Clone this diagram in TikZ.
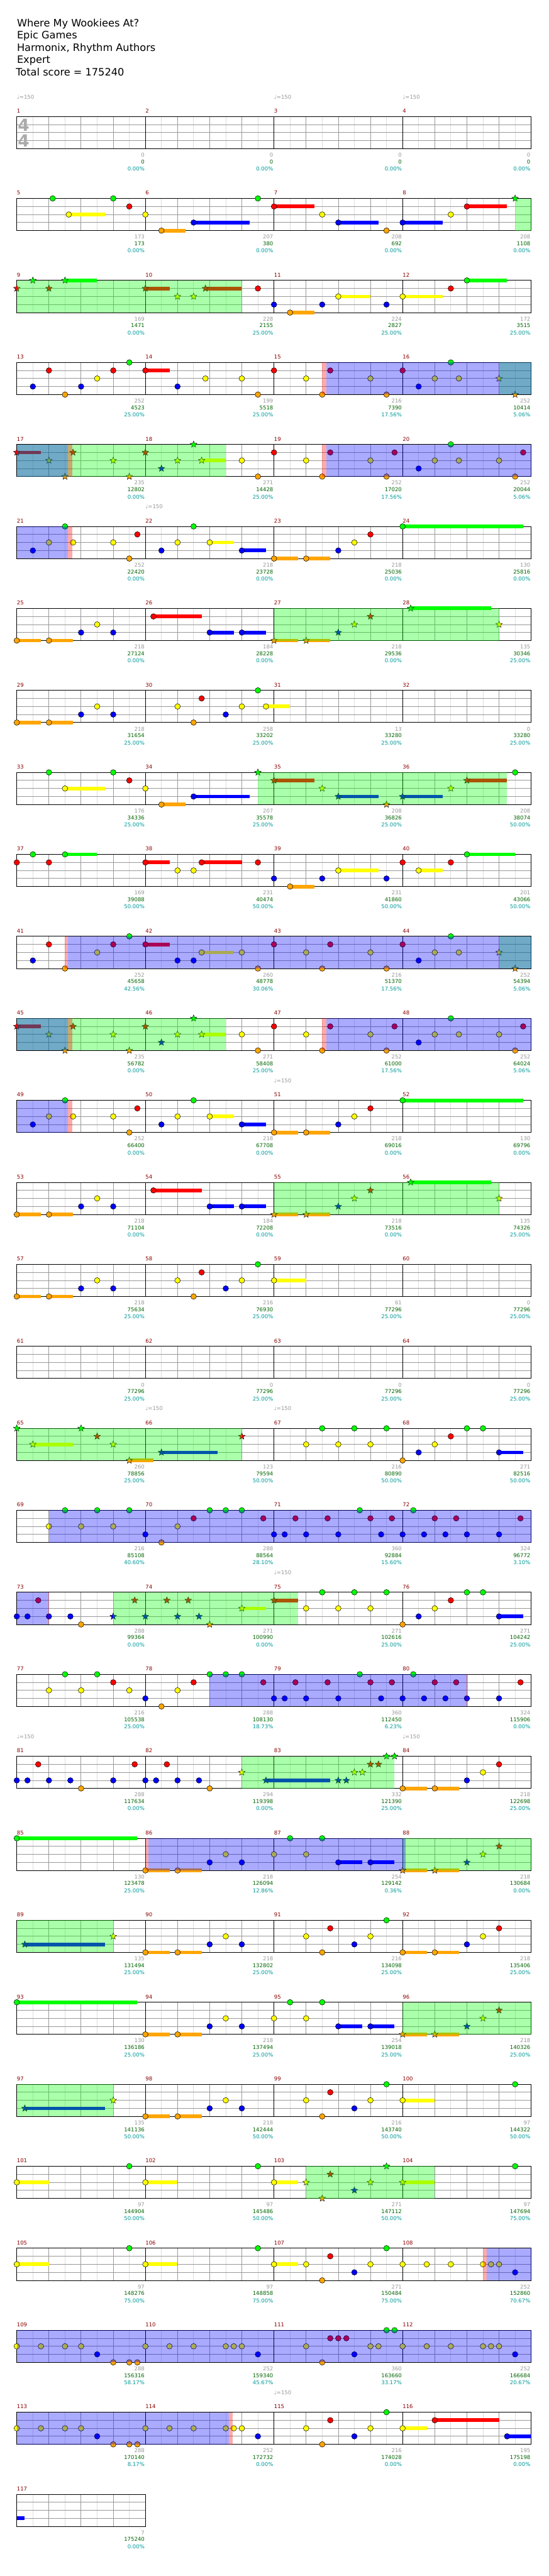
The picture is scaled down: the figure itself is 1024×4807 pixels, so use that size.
\documentclass[tikz,border=0pt]{standalone}
\usepackage{fontspec}
\setmainfont{DejaVu Sans}
\usetikzlibrary{shapes.geometric}
\definecolor{lane0}{RGB}{0,255,0}
\definecolor{lane1}{RGB}{255,0,0}
\definecolor{lane2}{RGB}{255,255,0}
\definecolor{lane3}{RGB}{0,0,255}
\definecolor{lane4}{RGB}{255,165,0}
\definecolor{barred}{RGB}{139,0,0}
\definecolor{scgray}{RGB}{153,153,153}
\definecolor{scgreen}{RGB}{0,100,0}
\definecolor{scteal}{RGB}{0,153,153}
\definecolor{gridlight}{RGB}{221,221,221}
\definecolor{gridmid}{RGB}{153,153,153}
\tikzset{
  row/.style={shift={(31.3,{217.3+153*#1})},x=15pt,y=-15pt},   % one line of four bars
  eighthline/.style={gridlight,line width=1pt},
  beatline/.style={gridmid,line width=1pt},
  laneline/.style={gridmid,line width=1pt},
  barline/.style={black,line width=1pt},
  gemline/.style={draw=black,line width=0.6pt},
  stargem/.style={star,star points=5,star point ratio=2.3,draw=black,line width=0.5pt,minimum size=13pt,inner sep=0pt},
  spfill/.style={fill=lane0,fill opacity=0.333},                 % star power
  odfill/.style={fill=lane3,fill opacity=0.333},                 % activation
  odmarkfill/.style={fill=lane1,fill opacity=0.333},
  mnum/.style={anchor=base west,inner sep=0pt,text=barred,font=\fontsize{10}{12}\selectfont},
  sgray/.style={anchor=base east,inner sep=0pt,text=scgray,font=\fontsize{10}{12}\selectfont},
  sgreen/.style={anchor=base east,inner sep=0pt,text=scgreen,font=\fontsize{10}{12}\selectfont},
  steal/.style={anchor=base east,inner sep=0pt,text=scteal,font=\fontsize{10}{12}\selectfont},
  tempo/.style={anchor=base west,inner sep=0pt,text=scgray,font=\fontsize{10}{12}\selectfont},
  titletext/.style={anchor=base west,inner sep=0pt,font=\fontsize{19}{23}\selectfont},
  timesig/.style={inner sep=0pt,text=black!33,font=\fontsize{31}{31}\selectfont\bfseries},
}
% grid of one line: #1 line, #2 bars
\newcommand\staff[2]{%
  \pgfmathtruncatemacro\se{16*#2}%
  \foreach \x in {2,6,...,\se} \draw[eighthline] (\x,0) -- (\x,4);
  \foreach \x in {4,8,...,\se} \draw[beatline] (\x,0) -- (\x,4);
  \foreach \y in {1,2,3} \draw[laneline] (0,\y) -- (\se,\y);
  \foreach \k in {1,...,#2} {%
    \draw[barline] (16*\k,0) -- (16*\k,4);
    \pgfmathtruncatemacro\mn{4*#1+\k}%
    \node[mnum] at (16*\k-16,-0.44) {\mn};}
  \draw[barline] (0,0) rectangle (\se,4);}
\newcommand\sust[3]{\fill[lane#2] (#1,#2-0.227) rectangle ({#1+#3},#2+0.227);}
\newcommand\gem[2]{\filldraw[gemline,fill=lane#2] (#1,#2) circle[radius=5.2pt];}
\newcommand\gemh[3]{\sust{#1}{#2}{#3}\gem{#1}{#2}}
\newcommand\sgem[2]{\node[stargem,fill=lane#2] at (#1,#2) {};}
\newcommand\sgemh[3]{\sust{#1}{#2}{#3}\sgem{#1}{#2}}
\newcommand\spzone[2]{\fill[spfill] (#1,0) rectangle (#2,4);}
\newcommand\odzone[2]{\fill[odfill] (#1,0) rectangle (#2,4);}
\newcommand\odmark[2]{\fill[odmarkfill] (#1,0) rectangle ({#1+#2},4);}
\newcommand\barscore[4]{%
  \node[sgray] at (16*#1+15.91,5.03) {#2};
  \node[sgreen] at (16*#1+15.91,5.87) {#3};
  \node[steal] at (16*#1+15.91,6.76) {#4\%};}
\newcommand\tempo[1]{\node[tempo] at (16*#1,-2.2) {♩=150};}
% repeated sections
\newcommand\riffA{%
  \sgemh{0}{1}{3}\sgem{4}{2}\sgem{6}{4}\sgem{7}{1}\sgem{12}{2}\sgem{14}{4}
  \sgem{16}{1}\sgem{18}{3}\sgem{20}{2}\sgem{22}{0}\sgemh{23}{2}{3}
  \gem{28}{2}\gem{30}{4}\gem{32}{1}\gem{36}{2}\gem{38}{4}\gem{39}{1}
  \gem{44}{2}\gem{46}{4}\gem{47}{1}\gem{50}{3}\gem{52}{2}\gem{54}{0}
  \gem{55}{2}\gem{60}{2}\gem{62}{4}\gem{63}{1}
  \spzone{0}{26}\odmark{6.4}{0.5}\odmark{38}{0.5}
  \odzone{0}{6.4}\odzone{38.5}{64}}
\newcommand\riffB{%
  \gem{2}{3}\gem{4}{2}\gem{6}{0}\gem{7}{2}\gem{12}{2}\gem{14}{4}\gem{15}{1}
  \gem{18}{3}\gem{20}{2}\gem{22}{0}\gemh{24}{2}{3}\gemh{28}{3}{3}
  \gemh{32}{4}{3}\gemh{36}{4}{3}\gem{40}{3}\gem{42}{2}\gem{44}{1}\gemh{48}{0}{15}
  \odmark{6.4}{0.5}\odzone{0}{6.4}}
\newcommand\riffC{%
  \gemh{0}{4}{3}\gemh{4}{4}{3}\gem{8}{3}\gem{10}{2}\gem{12}{3}
  \gemh{17}{1}{6}\gemh{24}{3}{3}\gemh{28}{3}{3}
  \sgemh{32}{4}{3}\sgemh{36}{4}{3}\sgem{40}{3}\sgem{42}{2}\sgem{44}{1}
  \sgemh{49}{0}{10}\sgem{60}{2}
  \spzone{32}{60}}
\newcommand\riffH{%
  \gemh{0}{4}{3}\gemh{4}{4}{3}\gem{8}{3}\gem{10}{2}\gem{12}{3}\gem{20}{2}
  \gem{22}{4}\gem{23}{1}\gem{26}{3}\gem{28}{2}\gem{30}{0}}
\newcommand\riffI{%
  \gem{36}{2}\gem{38}{0}\gem{40}{2}\gem{42}{0}\gem{44}{2}\gem{46}{0}\gem{48}{4}
  \gem{50}{3}\gem{52}{2}\gem{54}{1}\gem{56}{0}\gem{58}{0}\gemh{60}{3}{3}}
\newcommand\riffD{%
  \gem{30.67}{1}\gem{32}{3}\gem{33.33}{3}\gem{34.67}{1}\gem{36}{3}\gem{38.67}{1}
  \gem{40}{3}\gem{42.67}{0}\gem{44}{1}\gem{45.33}{3}\gem{46.67}{1}\gem{48}{3}
  \gem{49.33}{0}\gem{50.67}{3}\gem{52}{1}\gem{53.33}{3}\gem{54.67}{1}\gem{56}{3}
  \gem{60}{3}\gem{62.67}{1}}
\newcommand\riffE{%
  \gemh{0}{0}{15}\gemh{16}{4}{3}\gemh{20}{4}{3}\gem{24}{3}\gem{26}{2}\gem{28}{3}
  \gem{32}{2}\gem{34}{0}\gem{36}{2}\gem{38}{0}\gemh{40}{3}{3}\gemh{44}{3}{3}
  \sgemh{48}{4}{3}\sgemh{52}{4}{3}\sgem{56}{3}\sgem{58}{2}\sgem{60}{1}}
\newcommand\riffF{%
  \sgemh{1}{3}{10}\sgem{12}{2}\gemh{16}{4}{3}\gemh{20}{4}{3}\gem{24}{3}\gem{26}{2}
  \gem{28}{3}\gem{36}{2}\gem{38}{4}\gem{39}{1}\gem{42}{3}\gem{44}{2}\gem{46}{0}
  \spzone{0}{12}}
\newcommand\riffG{%
  \gem{0}{2}\gem{3}{2}\gem{6}{2}\gem{8}{2}\gem{10}{3}\gem{12}{4}\gem{14}{4}\gem{15}{4}
  \gem{16}{2}\gem{19}{2}\gem{22}{2}\gem{26}{2}\gem{27}{2}\gem{28}{2}\gem{30}{3}}
\newcommand\riffJ{%
  \gemh{0}{2}{4}\gem{14}{0}\gemh{16}{2}{4}\gem{30}{0}\gemh{32}{2}{3}}
\begin{document}
\begin{tikzpicture}[x=1pt,y=-1pt]
  \fill[white] (0,0) rectangle (1024,4807);
  \useasboundingbox (0,0) rectangle (1024,4807);
  % header
  \node[titletext] (song) at (31.5,49.3) {Where My Wookiees At?};
  \node[titletext] (artist) at (31.5,72.3) {Epic Games};
  \node[titletext] (charter) at (31.5,95.6) {Harmonix, Rhythm Authors};
  \node[titletext] (level) at (31.5,118.5) {Expert};
  \node[titletext] (total) at (29.5,141.7) {Total score = 175240};
  % bars 1-4
  \begin{scope}[row=0]
    \staff{0}{4}
    \node[timesig] at (0.85,1.05) {4};
    \node[timesig] at (0.85,3.05) {4};
    \tempo{0}\tempo{2}\tempo{3}
    \barscore{0}{0}{0}{0.00}\barscore{1}{0}{0}{0.00}\barscore{2}{0}{0}{0.00}\barscore{3}{0}{0}{0.00}
  \end{scope}
  % bars 5-8
  \begin{scope}[row=1]
    \staff{1}{4}
    \gem{4.47}{0}\gemh{6.47}{2}{4.5}\gem{12}{0}\gem{14}{1}\gem{16}{2}\gemh{18}{4}{3}
    \gemh{22}{3}{7}\gem{30}{0}\gemh{32}{1}{5}\gem{38}{2}\gemh{40}{3}{5}\gem{46}{4}
    \gemh{48}{3}{5}\gem{54}{2}\gemh{56}{1}{5}\sgem{62}{0}
    \spzone{62}{64}
    \barscore{0}{173}{173}{0.00}\barscore{1}{207}{380}{0.00}\barscore{2}{208}{692}{0.00}\barscore{3}{208}{1108}{0.00}
  \end{scope}
  % bars 9-12
  \begin{scope}[row=2]
    \staff{2}{4}
    \sgem{0}{1}\sgem{2}{0}\sgem{4}{1}\sgemh{6}{0}{4}\sgemh{16}{1}{3}\sgem{20}{2}
    \sgem{22}{2}\sgemh{23.47}{1}{4.5}\gem{30}{1}\gem{32}{3}\gemh{34}{4}{3}\gem{38}{3}
    \gemh{40}{2}{4}\gem{46}{3}\gemh{48}{2}{5}\gem{54}{1}\gemh{56}{0}{5}
    \spzone{0}{28}
    \barscore{0}{169}{1471}{0.00}\barscore{1}{228}{2155}{25.00}\barscore{2}{224}{2827}{25.00}\barscore{3}{172}{3515}{25.00}
  \end{scope}
  % bars 13-16
  \begin{scope}[row=3]
    \staff{3}{4}
    \gem{2}{3}\gem{4}{1}\gem{6}{4}\gem{8}{3}\gem{10}{2}\gem{12}{1}\gem{14}{0}
    \gemh{16}{1}{3}\gem{20}{3}\gem{23.47}{2}\gem{28}{2}\gem{30}{4}\gem{32}{1}
    \gem{36}{2}\gem{38}{4}\gem{39}{1}\gem{44}{2}\gem{46}{4}\gem{48}{1}\gem{50}{3}
    \gem{52}{2}\gem{54}{0}\gem{55}{2}\sgem{60}{2}\sgem{62}{4}
    \spzone{60}{64}\odmark{38}{0.5}\odzone{38.5}{64}
    \barscore{0}{252}{4523}{25.00}\barscore{1}{199}{5518}{25.00}\barscore{2}{216}{7390}{17.56}\barscore{3}{252}{10414}{5.06}
  \end{scope}
  % bars 17-20
  \begin{scope}[row=4]
    \staff{4}{4}
    \riffA
    \barscore{0}{235}{12802}{0.00}\barscore{1}{271}{14428}{25.00}\barscore{2}{252}{17020}{17.56}\barscore{3}{252}{20044}{5.06}
  \end{scope}
  % bars 21-24
  \begin{scope}[row=5]
    \staff{5}{4}
    \riffB
    \tempo{1}
    \barscore{0}{252}{22420}{0.00}\barscore{1}{218}{23728}{0.00}\barscore{2}{218}{25036}{0.00}\barscore{3}{130}{25816}{0.00}
  \end{scope}
  % bars 25-28
  \begin{scope}[row=6]
    \staff{6}{4}
    \riffC
    \barscore{0}{218}{27124}{0.00}\barscore{1}{184}{28228}{0.00}\barscore{2}{218}{29536}{0.00}\barscore{3}{135}{30346}{25.00}
  \end{scope}
  % bars 29-32
  \begin{scope}[row=7]
    \staff{7}{4}
    \riffH\gemh{31}{2}{3}
    \barscore{0}{218}{31654}{25.00}\barscore{1}{258}{33202}{25.00}\barscore{2}{13}{33280}{25.00}\barscore{3}{0}{33280}{25.00}
  \end{scope}
  % bars 33-36
  \begin{scope}[row=8]
    \staff{8}{4}
    \gem{4}{0}\gemh{6}{2}{5}\gem{12}{0}\gem{14}{1}\gem{16}{2}\gemh{18}{4}{3}\gemh{22}{3}{7}
    \sgem{30}{0}\sgemh{32}{1}{5}\sgem{38}{2}\sgemh{40}{3}{5}\sgem{46}{4}\sgemh{48}{3}{5}
    \sgem{54}{2}\sgemh{56}{1}{5}\gem{62}{0}
    \spzone{30}{61}
    \barscore{0}{176}{34336}{25.00}\barscore{1}{207}{35578}{25.00}\barscore{2}{208}{36826}{25.00}\barscore{3}{208}{38074}{50.00}
  \end{scope}
  % bars 37-40
  \begin{scope}[row=9]
    \staff{9}{4}
    \gem{0}{1}\gem{2}{0}\gem{4}{1}\gemh{6}{0}{4}\gemh{16}{1}{3}\gem{20}{2}\gem{22}{2}
    \gemh{23}{1}{5}\gem{30}{1}\gem{32}{3}\gemh{34}{4}{3}\gem{38}{3}\gemh{40}{2}{5}
    \gem{46}{3}\gem{48}{1}\gemh{50}{2}{3}\gem{54}{1}\gemh{56}{0}{6}
    \barscore{0}{169}{39088}{50.00}\barscore{1}{231}{40474}{50.00}\barscore{2}{231}{41860}{50.00}\barscore{3}{201}{43066}{50.00}
  \end{scope}
  % bars 41-44
  \begin{scope}[row=10]
    \staff{10}{4}
    \gem{2}{3}\gem{4}{1}\gem{6}{4}\gem{10}{2}\gem{12}{1}\gem{14}{0}\gemh{16}{1}{3}
    \gem{20}{3}\gem{22}{3}\gemh{23}{2}{4}\gem{28}{2}\gem{30}{4}\gem{32}{1}\gem{36}{2}
    \gem{38}{4}\gem{39}{1}\gem{44}{2}\gem{46}{4}\gem{48}{1}\gem{50}{3}\gem{52}{2}
    \gem{54}{0}\gem{55}{2}\sgem{60}{2}\sgem{62}{4}
    \spzone{60}{64}\odmark{6}{0.4}\odzone{6.4}{64}
    \barscore{0}{252}{45658}{42.56}\barscore{1}{260}{48778}{30.06}\barscore{2}{216}{51370}{17.56}\barscore{3}{252}{54394}{5.06}
  \end{scope}
  % bars 45-48
  \begin{scope}[row=11]
    \staff{11}{4}
    \riffA
    \barscore{0}{235}{56782}{0.00}\barscore{1}{271}{58408}{25.00}\barscore{2}{252}{61000}{17.56}\barscore{3}{252}{64024}{5.06}
  \end{scope}
  % bars 49-52
  \begin{scope}[row=12]
    \staff{12}{4}
    \riffB
    \tempo{2}
    \barscore{0}{252}{66400}{0.00}\barscore{1}{218}{67708}{0.00}\barscore{2}{218}{69016}{0.00}\barscore{3}{130}{69796}{0.00}
  \end{scope}
  % bars 53-56
  \begin{scope}[row=13]
    \staff{13}{4}
    \riffC
    \barscore{0}{218}{71104}{0.00}\barscore{1}{184}{72208}{0.00}\barscore{2}{218}{73516}{0.00}\barscore{3}{135}{74326}{25.00}
  \end{scope}
  % bars 57-60
  \begin{scope}[row=14]
    \staff{14}{4}
    \riffH\gemh{32}{2}{4}
    \barscore{0}{218}{75634}{25.00}\barscore{1}{216}{76930}{25.00}\barscore{2}{61}{77296}{25.00}\barscore{3}{0}{77296}{25.00}
  \end{scope}
  % bars 61-64
  \begin{scope}[row=15]
    \staff{15}{4}
    \barscore{0}{0}{77296}{25.00}\barscore{1}{0}{77296}{25.00}\barscore{2}{0}{77296}{25.00}\barscore{3}{0}{77296}{25.00}
  \end{scope}
  % bars 65-68
  \begin{scope}[row=16]
    \staff{16}{4}
    \sgem{0}{0}\sgemh{2}{2}{5}\sgem{8}{0}\sgem{10}{1}\sgem{12}{2}\sgemh{14}{4}{3}
    \sgemh{18}{3}{7}\sgem{28}{1}
    \riffI
    \spzone{0}{28}
    \tempo{1}\tempo{2}
    \barscore{0}{260}{78856}{25.00}\barscore{1}{123}{79594}{50.00}\barscore{2}{216}{80890}{50.00}\barscore{3}{271}{82516}{50.00}
  \end{scope}
  % bars 69-72
  \begin{scope}[row=17]
    \staff{17}{4}
    \gem{4}{2}\gem{6}{0}\gem{8}{2}\gem{10}{0}\gem{12}{2}\gem{14}{0}\gem{16}{3}\gem{18}{4}
    \gem{20}{2}\gem{22}{1}\gem{24}{0}\gem{26}{0}\gem{28}{0}
    \riffD
    \odzone{4}{64}
    \barscore{0}{216}{85108}{40.60}\barscore{1}{288}{88564}{28.10}\barscore{2}{360}{92884}{15.60}\barscore{3}{324}{96772}{3.10}
  \end{scope}
  % bars 73-76
  \begin{scope}[row=18]
    \staff{18}{4}
    \gem{0}{3}\gem{1.33}{3}\gem{2.67}{1}\gem{4}{3}\gem{6.67}{3}\gem{8}{4}
    \sgem{12}{3}\sgem{14.67}{1}\sgem{16}{3}\sgem{18.67}{1}\sgem{20}{3}\sgem{21.33}{1}
    \sgem{22.67}{3}\sgem{24}{4}\sgemh{28}{2}{3}\sgemh{32}{1}{3}
    \riffI
    \spzone{12}{35}\odzone{0}{3.9}\odmark{3.9}{0.1}
    \tempo{2}
    \barscore{0}{288}{99364}{0.00}\barscore{1}{271}{100990}{0.00}\barscore{2}{271}{102616}{25.00}\barscore{3}{271}{104242}{25.00}
  \end{scope}
  % bars 77-80
  \begin{scope}[row=19]
    \staff{19}{4}
    \gem{4}{2}\gem{6}{0}\gem{8}{2}\gem{10}{0}\gem{12}{1}\gem{14}{2}\gem{16}{3}\gem{18}{4}
    \gem{20}{2}\gem{22}{1}\gem{24}{0}\gem{26}{0}\gem{28}{0}
    \riffD
    \odzone{24}{56}\odmark{56}{0.1}
    \barscore{0}{216}{105538}{25.00}\barscore{1}{288}{108130}{18.73}\barscore{2}{360}{112450}{6.23}\barscore{3}{324}{115906}{0.00}
  \end{scope}
  % bars 81-84
  \begin{scope}[row=20]
    \staff{20}{4}
    \gem{0}{3}\gem{1.33}{3}\gem{2.67}{1}\gem{4}{3}\gem{6.67}{3}\gem{8}{4}\gem{12}{3}
    \gem{14.67}{1}\gem{16}{3}\gem{17.33}{3}\gem{18.67}{1}\gem{20}{3}\gem{22.67}{3}\gem{24}{4}
    \sgem{28}{2}\sgemh{31}{3}{8}\sgem{40}{3}\sgem{41}{3}\sgem{42}{2}\sgem{43}{2}
    \sgem{44}{1}\sgem{45}{1}\sgem{46}{0}\sgem{47}{0}
    \gemh{48}{4}{3}\gemh{52}{4}{3}\gem{56}{3}\gem{58}{2}\gem{60}{1}
    \spzone{28}{47}
    \tempo{0}\tempo{3}
    \barscore{0}{288}{117634}{0.00}\barscore{1}{294}{119398}{0.00}\barscore{2}{332}{121390}{25.00}\barscore{3}{218}{122698}{25.00}
  \end{scope}
  % bars 85-88
  \begin{scope}[row=21]
    \staff{21}{4}
    \riffE
    \spzone{48}{64}\odmark{16}{0.35}\odzone{16.35}{48.4}
    \barscore{0}{130}{123478}{25.00}\barscore{1}{218}{126094}{12.86}\barscore{2}{254}{129142}{0.36}\barscore{3}{218}{130684}{0.00}
  \end{scope}
  % bars 89-92
  \begin{scope}[row=22]
    \staff{22}{4}
    \riffF
    \gemh{48}{4}{3}\gemh{52}{4}{3}\gem{56}{3}\gem{58}{2}\gem{60}{1}
    \barscore{0}{135}{131494}{25.00}\barscore{1}{218}{132802}{25.00}\barscore{2}{216}{134098}{25.00}\barscore{3}{218}{135406}{25.00}
  \end{scope}
  % bars 93-96
  \begin{scope}[row=23]
    \staff{23}{4}
    \riffE
    \spzone{48}{64}
    \barscore{0}{130}{136186}{25.00}\barscore{1}{218}{137494}{25.00}\barscore{2}{254}{139018}{25.00}\barscore{3}{218}{140326}{25.00}
  \end{scope}
  % bars 97-100
  \begin{scope}[row=24]
    \staff{24}{4}
    \riffF
    \gemh{48}{2}{4}\gem{62}{0}
    \barscore{0}{135}{141136}{50.00}\barscore{1}{218}{142444}{50.00}\barscore{2}{216}{143740}{50.00}\barscore{3}{97}{144322}{50.00}
  \end{scope}
  % bars 101-104
  \begin{scope}[row=25]
    \staff{25}{4}
    \riffJ
    \sgem{36}{2}\sgem{38}{4}\sgem{39}{1}\sgem{42}{3}\sgem{44}{2}\sgem{46}{0}
    \sgemh{48}{2}{4}\gem{62}{0}
    \spzone{36}{52}
    \barscore{0}{97}{144904}{50.00}\barscore{1}{97}{145486}{50.00}\barscore{2}{271}{147112}{50.00}\barscore{3}{97}{147694}{75.00}
  \end{scope}
  % bars 105-108
  \begin{scope}[row=26]
    \staff{26}{4}
    \riffJ
    \gem{36}{2}\gem{38}{4}\gem{39}{1}\gem{42}{3}\gem{44}{2}\gem{46}{0}\gem{48}{2}
    \gem{51}{2}\gem{54}{2}\gem{58}{2}\gem{59}{2}\gem{60}{2}\gem{62}{3}
    \odmark{58}{0.45}\odzone{58.45}{64}
    \barscore{0}{97}{148276}{75.00}\barscore{1}{97}{148858}{75.00}\barscore{2}{271}{150484}{75.00}\barscore{3}{252}{152860}{70.67}
  \end{scope}
  % bars 109-112
  \begin{scope}[row=27]
    \staff{27}{4}
    \riffG
    \gem{36}{2}\gem{38}{4}\gem{39}{1}\gem{40}{1}\gem{41}{1}\gem{42}{3}\gem{44}{2}
    \gem{45}{2}\gem{46}{0}\gem{47}{0}\gem{48}{2}\gem{51}{2}\gem{54}{2}\gem{58}{2}
    \gem{59}{2}\gem{60}{2}\gem{62}{3}
    \odzone{0}{64}
    \barscore{0}{288}{156316}{58.17}\barscore{1}{252}{159340}{45.67}\barscore{2}{360}{163660}{33.17}\barscore{3}{252}{166684}{20.67}
  \end{scope}
  % bars 113-116
  \begin{scope}[row=28]
    \staff{28}{4}
    \riffG
    \gem{36}{2}\gem{38}{4}\gem{39}{1}\gem{42}{3}\gem{44}{2}\gem{46}{0}
    \gemh{48}{2}{3}\gemh{52}{1}{8}\gemh{61}{3}{3}
    \odzone{0}{26.4}\odmark{26.4}{0.5}
    \tempo{2}
    \barscore{0}{288}{170140}{8.17}\barscore{1}{252}{172732}{0.00}\barscore{2}{216}{174028}{0.00}\barscore{3}{195}{175198}{0.00}
  \end{scope}
  % bar 117
  \begin{scope}[row=29]
    \staff{29}{1}
    \sust{0}{3}{0.98}
    \barscore{0}{7}{175240}{0.00}
  \end{scope}
\end{tikzpicture}
\end{document}
